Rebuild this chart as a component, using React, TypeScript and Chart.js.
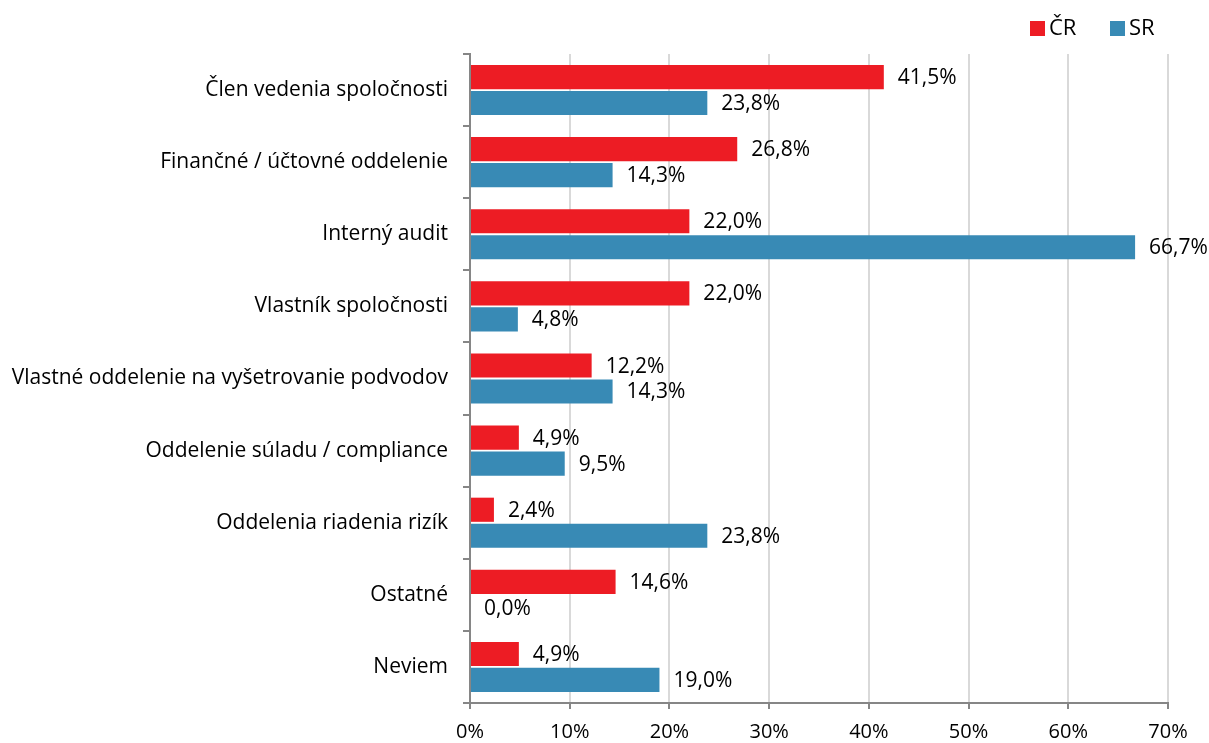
import React, { useEffect, useRef } from "react";
import { Chart, registerables } from "chart.js";

Chart.register(...registerables);

const categories = [
  "Člen vedenia spoločnosti",
  "Finančné / účtovné oddelenie",
  "Interný audit",
  "Vlastník spoločnosti",
  "Vlastné oddelenie na vyšetrovanie podvodov",
  "Oddelenie súladu / compliance",
  "Oddelenia riadenia rizík",
  "Ostatné",
  "Neviem",
];
const seriesCR = [41.5, 26.8, 22.0, 22.0, 12.2, 4.9, 2.4, 14.6, 4.9];
const seriesSR = [23.8, 14.3, 66.7, 4.8, 14.3, 9.5, 23.8, 0.0, 19.0];
const seriesNames = ["ČR", "SR"];
const xTicks = [0, 10, 20, 30, 40, 50, 60, 70];

const RED = "#ED1C24";
const BLUE = "#388AB5";
const FONT = "'Open Sans', sans-serif";

const fmt = (v: number) => v.toFixed(1).replace(".", ",") + "%";

const valueLabels = {
  id: "valueLabels",
  afterDatasetsDraw(chart: any) {
    const ctx = chart.ctx;
    ctx.save();
    ctx.font = `21px ${FONT}`;
    ctx.fillStyle = "#000";
    ctx.textAlign = "left";
    ctx.textBaseline = "middle";
    chart.data.datasets.forEach((ds: any, di: number) => {
      const meta = chart.getDatasetMeta(di);
      meta.data.forEach((el: any, i: number) => {
        ctx.fillText(fmt(ds.data[i]), el.x + 14, el.y + 1);
      });
    });
    ctx.restore();
  },
};

const customLegend = {
  id: "customLegend",
  afterDraw(chart: any) {
    const ctx = chart.ctx;
    ctx.save();
    ctx.font = `22px ${FONT}`;
    ctx.textBaseline = "middle";
    ctx.textAlign = "left";
    const starts = [1030, 1110];
    chart.data.datasets.forEach((ds: any, i: number) => {
      const x = starts[i];
      ctx.fillStyle = ds.backgroundColor;
      ctx.fillRect(x, 21, 15, 15);
      ctx.fillStyle = "#000";
      ctx.fillText(ds.label, x + 19, 29);
    });
    ctx.restore();
  },
};

export default function App() {
  const ref = useRef<HTMLCanvasElement>(null);
  useEffect(() => {
    if (!ref.current) return;
    const chart = new Chart(ref.current, {
      type: "bar",
      data: {
        labels: categories,
        datasets: [
          {
            label: seriesNames[0],
            data: seriesCR,
            backgroundColor: RED,
            categoryPercentage: 0.72,
            barPercentage: 0.93,
          },
          {
            label: seriesNames[1],
            data: seriesSR,
            backgroundColor: BLUE,
            categoryPercentage: 0.72,
            barPercentage: 0.93,
          },
        ],
      },
      options: {
        indexAxis: "y",
        animation: false,
        responsive: true,
        maintainAspectRatio: false,
        layout: { padding: { top: 54, right: 41, bottom: 0, left: 0 } },
        plugins: {
          legend: { display: false },
          tooltip: { enabled: false },
        },
        scales: {
          x: {
            min: 0,
            max: 70,
            afterBuildTicks: (scale: any) => {
              scale.ticks = xTicks.map((v) => ({ value: v }));
            },
            ticks: {
              callback: (v: any) => v + "%",
              font: { family: FONT, size: 20 },
              color: "#000",
              padding: 11,
              maxRotation: 0,
            },
            grid: {
              color: "#D9D9D9",
              lineWidth: 2,
              tickColor: "#868686",
              tickLength: 6,
            },
            border: { color: "#868686", width: 2 },
            afterFit: (scale: any) => {
              scale.height = 40;
            },
          },
          y: {
            offset: true,
            ticks: {
              font: { family: FONT, size: 21 },
              color: "#000",
              padding: 15,
            },
            grid: {
              offset: true,
              drawOnChartArea: false,
              tickColor: "#868686",
              tickLength: 7,
              lineWidth: 2,
            },
            border: { color: "#868686", width: 2 },
            afterFit: (scale: any) => {
              scale.width = 470;
            },
          },
        },
      },
      plugins: [valueLabels, customLegend],
    });
    return () => chart.destroy();
  }, []);
  return (
    <div style={{ position: "absolute", left: 0, top: 0, width: 1209, height: 743, background: "#fff" }}>
      <canvas ref={ref} />
    </div>
  );
}
